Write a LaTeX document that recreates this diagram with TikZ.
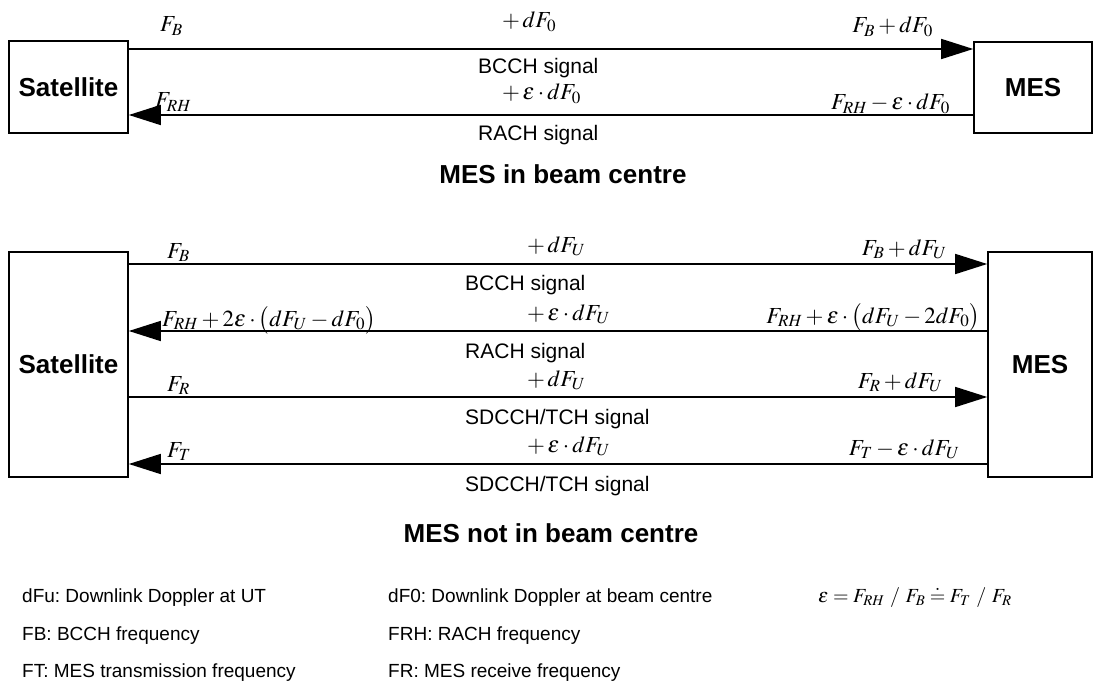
\documentclass[tikz,border=0pt]{standalone}
\usepackage{mathptmx}
\usepackage[no-math]{fontspec}
\setmainfont{Liberation Sans}
\usetikzlibrary{arrows.meta, positioning}
\frenchspacing

\begin{document}
\begin{tikzpicture}[x=1pt, y=-1pt,
  box/.style={draw, line width=1.6pt, inner sep=0pt,
              font=\fontsize{26}{30}\selectfont\bfseries},
  sig/.style={line width=1.6pt, -{Triangle[length=32pt, width=20pt]}},
  sgl/.style={font=\fontsize{21}{25}\selectfont, inner sep=0pt, anchor=west},
  frq/.style={font=\fontsize{23}{27}\selectfont, inner sep=0pt},
  ttl/.style={font=\fontsize{26}{30}\selectfont\bfseries, inner sep=0pt},
  lgd/.style={font=\fontsize{19}{23}\selectfont, inner sep=0pt, anchor=base west}
]
\useasboundingbox (0,0) rectangle (1099,682);

% MES in beam centre
\node[box, minimum width=119pt, minimum height=92pt] (sat1) at (68.5,87) {Satellite};
\node[box, minimum width=118pt, minimum height=91pt] (mes1) at (1033,87.5) {MES};

\draw[sig] (sat1.east |- 0,49) -- (mes1.west |- 0,49);
\node[frq, anchor=base west] (b1l) at (160,32) {$F_B$};
\node[frq, anchor=base west] (b1m) at (502,28) {$+\,dF_0$};
\node[frq, anchor=base east] (b1r) at (933,33) {$F_B + dF_0$};
\node[sgl] (b1s) at (478,68) {BCCH signal};

\draw[sig] (mes1.west |- 0,115) -- (sat1.east |- 0,115);
\node[frq, anchor=base west] (r1l) at (155,108) {$F_{RH}$};
\node[frq, anchor=base west] (r1m) at (502,100) {$+\,\varepsilon\cdot dF_0$};
\node[frq, anchor=base east] (r1r) at (950,110) {$F_{RH} - \varepsilon\cdot dF_0$};
\node[sgl] (r1s) at (478,135) {RACH signal};

\node[ttl] (t1) at (563,174) {MES in beam centre};

% MES not in beam centre
\node[box, minimum width=119pt, minimum height=225pt] (sat2) at (68.5,364.5) {Satellite};
\node[box, minimum width=104pt, minimum height=225pt] (mes2) at (1040,364.5) {MES};

\draw[sig] (sat2.east |- 0,264) -- (mes2.west |- 0,264);
\node[frq, anchor=base west] (b2l) at (167,258) {$F_B$};
\node[frq, anchor=base west] (b2m) at (527,252) {$+\,dF_U$};
\node[frq, anchor=base east] (b2r) at (947,255) {$F_B + dF_U$};
\node[sgl] (b2s) at (465,285) {BCCH signal};

\draw[sig] (mes2.west |- 0,331) -- (sat2.east |- 0,331);
\node[frq, anchor=base west] (r2l) at (162,326)
  {$F_{RH} + 2\varepsilon\cdot\bigl(dF_U - dF_0\bigr)$};
\node[frq, anchor=base west] (r2m) at (527,320) {$+\,\varepsilon\cdot dF_U$};
\node[frq, anchor=base east] (r2r) at (980,323)
  {$F_{RH} + \varepsilon\cdot\bigl(dF_U - 2dF_0\bigr)$};
\node[sgl] (r2s) at (465,353) {RACH signal};

\draw[sig] (sat2.east |- 0,397) -- (mes2.west |- 0,397);
\node[frq, anchor=base west] (s2l) at (167,391) {$F_R$};
\node[frq, anchor=base west] (s2m) at (527,386) {$+\,dF_U$};
\node[frq, anchor=base east] (s2r) at (943,388) {$F_R + dF_U$};
\node[sgl] (s2s) at (465,419) {SDCCH/TCH signal};

\draw[sig] (mes2.west |- 0,464) -- (sat2.east |- 0,464);
\node[frq, anchor=base west] (u2l) at (167,457) {$F_T$};
\node[frq, anchor=base west] (u2m) at (527,452) {$+\,\varepsilon\cdot dF_U$};
\node[frq, anchor=base east] (u2r) at (960,455) {$F_T - \varepsilon\cdot dF_U$};
\node[sgl] (u2s) at (465,486) {SDCCH/TCH signal};

\node[ttl] (t2) at (551,533) {MES not in beam centre};

% Legend
\node[lgd] (l1) at (22,602) {dFu: Downlink Doppler at UT};
\node[lgd] (l2) at (22,640) {FB: BCCH frequency};
\node[lgd] (l3) at (22,677) {FT: MES transmission frequency};
\node[lgd] (l4) at (388,602) {dF0: Downlink Doppler at beam centre};
\node[lgd] (l5) at (388,640) {FRH: RACH frequency};
\node[lgd] (l6) at (388,677) {FR: MES receive frequency};
\node[lgd, font=\fontsize{20}{24}\selectfont] (l7) at (818,602)
  {$\varepsilon = F_{RH}\ /\ F_B \doteq F_T\ /\ F_R$};
\end{tikzpicture}
\end{document}
